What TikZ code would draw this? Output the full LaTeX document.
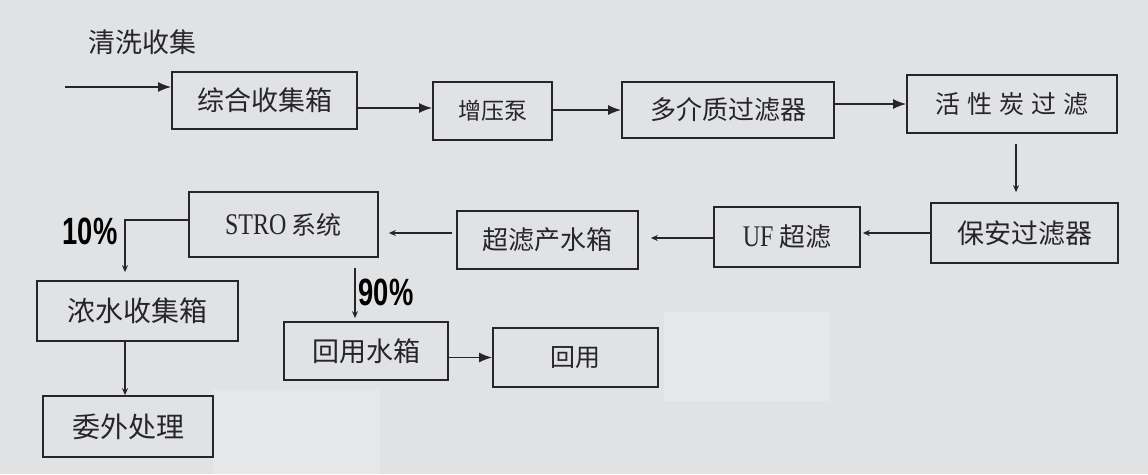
\documentclass[tikz,border=0pt]{standalone}
\usepackage{fontspec}
\usepackage{graphicx}
\setmainfont{Liberation Serif}
\newfontfamily\cjk{Noto Sans CJK SC}
\newfontfamily\pct{Liberation Sans}
\usetikzlibrary{arrows.meta}
\definecolor{bgc}{RGB}{225,226,228}
\definecolor{patchc}{RGB}{230,231,233}
\definecolor{inkc}{RGB}{38,38,40}
\newcommand{\lat}[1]{{\rmfamily\fontsize{30}{32}\selectfont\scalebox{0.8}[1]{#1}}}
\begin{document}
\begin{tikzpicture}[x=1pt,y=-1pt,
  box/.style={draw=inkc,line width=1.7pt,rectangle,inner sep=0pt,text=inkc,font=\cjk},
  bigarr/.style={draw=inkc,line width=1.5pt,-{Latex[length=13pt,width=10pt]}},
  smallarr/.style={draw=inkc,line width=1.3pt,-{Stealth[length=7pt,width=6pt]}},
  pctlabel/.style={inner sep=0pt,text=black,font=\pct\bfseries\fontsize{38}{40}\selectfont}]
\fill[bgc] (0,0) rectangle (1148,474);
\useasboundingbox (0,0) rectangle (1148,474);
\fill[patchc] (213,390) rectangle (380,474);
\fill[patchc] (664,312) rectangle (830,401);

% nodes
\node[box,minimum width=185pt,minimum height=57pt,font=\cjk\fontsize{27}{29}\selectfont] (zh) at (264.5,100.5) {综合收集箱};
\node[box,minimum width=119pt,minimum height=58pt,font=\cjk\fontsize{23}{25}\selectfont] (zy) at (492.5,111) {增压泵};
\node[box,minimum width=212pt,minimum height=56pt,font=\cjk\fontsize{26}{28}\selectfont] (dj) at (728,110) {多介质过滤器};
\node[box,minimum width=210pt,minimum height=58pt,font=\cjk\fontsize{25}{27}\selectfont] (hx) at (1012,104) {活\hspace{7pt}性\hspace{7pt}炭\hspace{7pt}过\hspace{7pt}滤};
\node[box,minimum width=187pt,minimum height=60pt,font=\cjk\fontsize{27}{29}\selectfont] (ba) at (1024.5,233) {保安过滤器};
\node[box,minimum width=146pt,minimum height=60pt,font=\cjk\fontsize{26}{28}\selectfont] (uf) at (787,237) {\lat{UF} 超滤};
\node[box,minimum width=181pt,minimum height=58pt,font=\cjk\fontsize{26}{28}\selectfont] (cl) at (547.5,240) {超滤产水箱};
\node[box,minimum width=189pt,minimum height=65pt,font=\cjk\fontsize{25}{27}\selectfont] (st) at (283.5,224.5) {\lat{STRO} 系统};
\node[box,minimum width=201pt,minimum height=60pt,font=\cjk\fontsize{28}{30}\selectfont] (ns) at (137.5,311) {浓水收集箱};
\node[box,minimum width=170pt,minimum height=61pt,font=\cjk\fontsize{28}{30}\selectfont] (ww) at (128,426.5) {委外处理};
\node[box,minimum width=164pt,minimum height=58pt,font=\cjk\fontsize{27}{29}\selectfont] (hs) at (366,351) {回用水箱};
\node[box,minimum width=165pt,minimum height=59pt,font=\cjk\fontsize{25}{27}\selectfont] (hy) at (575.5,357.5) {回用};

\node[inner sep=0pt,text=inkc,font=\cjk\fontsize{27}{29}\selectfont] (qx) at (142,42) {清洗收集};
\node[pctlabel] (p10) at (90,231) {\scalebox{0.72}[1]{10\%}};
\node[pctlabel] (p90) at (386,292) {\scalebox{0.72}[1]{90\%}};

\coordinate (in) at (65,87);
\coordinate (c10) at (125,220);
\coordinate (c90) at (355,0);

% connectors
\draw[bigarr] (in) -- (in -| zh.west);
\draw[bigarr] (zh.east |- 0,108) -- (zy.west |- 0,108);
\draw[bigarr] (zy.east |- 0,110) -- (dj.west |- 0,110);
\draw[bigarr] (dj.east |- hx.west) -- (hx.west);
\draw[smallarr,shorten <=10pt,shorten >=10pt] (1016,0 |- hx.south) -- (1016,0 |- ba.north);
\draw[smallarr,shorten >=2pt] (ba.west) -- (ba.west -| uf.east);
\draw[smallarr,shorten >=12pt] (uf.west |- 0,238) -- (cl.east |- 0,238);
\draw[smallarr,shorten <=4pt,shorten >=10pt] (cl.west |- 0,233) -- (st.east |- 0,233);
\draw[smallarr,shorten >=8pt] (st.west |- c10) -- (c10) -- (c10 |- ns.north);
\draw[smallarr] (c10 |- ns.south) -- (c10 |- ww.north);
\draw[smallarr,shorten <=10pt,shorten >=3pt] (c90 |- st.south) -- (c90 |- hs.north);
\draw[bigarr] (hs.east |- hy.west) -- (hy.west);
\end{tikzpicture}
\end{document}
